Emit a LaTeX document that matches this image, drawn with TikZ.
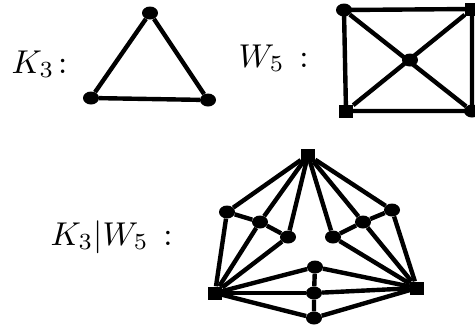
\documentclass[tikz,border=0pt]{standalone}
\usetikzlibrary{shapes.geometric}
\begin{document}
\begin{tikzpicture}[x=1pt,y=-1pt,
  dotv/.style={ellipse,fill=black,draw=none,minimum width=16pt,minimum height=13pt,inner sep=0pt},
  sqv/.style={rectangle,fill=black,draw=none,minimum width=14pt,minimum height=13pt,inner sep=0pt},
  edge/.style={line width=4.4pt},
  lbl/.style={anchor=base west,inner sep=0pt,scale=3.3}]
\useasboundingbox (0,0) rectangle (475,325);
% K3
\node[lbl] (lk) at (11,73) {$K_3\!:$};
\node[dotv] (a1) at (150,13) {};
\node[dotv] (a2) at (91,98) {};
\node[dotv] (a3) at (208,100) {};
\draw[edge] (a1) -- (a2) -- (a3) -- (a1);
% W5
\node[lbl] (lw) at (238,67) {$W_5\,:$};
\node[dotv] (w1) at (344,10) {};
\node[sqv] (w2) at (472,9) {};
\node[sqv] (w3) at (346,111) {};
\node[dotv] (w4) at (472,111) {};
\node[dotv] (w0) at (410,60) {};
\draw[edge] (w1.center) -- (w2.center) -- (w4.center) -- (w3.center) -- (w1.center);
\draw[edge] (w1) -- (w4);
\draw[edge] (w2) -- (w3);
% K3|W5
\node[lbl] (lkw) at (50,245) {$K_3|W_5\,:$};
\node[sqv] (t) at (308,155) {};
\node[sqv] (l) at (215,293) {};
\node[sqv] (r) at (417,288) {};
\node[dotv] (l1) at (227,212) {};
\node[dotv] (l2) at (260,222) {};
\node[dotv] (l3) at (288,237) {};
\node[dotv] (r3) at (333,237) {};
\node[dotv] (r2) at (363,222) {};
\node[dotv] (r1) at (392,210) {};
\node[dotv] (b1) at (315,267) {};
\node[dotv] (b2) at (314,293) {};
\node[dotv] (b3) at (314,318) {};
\foreach \v in {l1,l2,l3,r3,r2,r1} \draw[edge] (t) -- (\v);
\foreach \v in {l1,l2,l3,b1,b2,b3} \draw[edge] (l) -- (\v);
\foreach \v in {r1,r2,r3,b1,b2,b3} \draw[edge] (r) -- (\v);
\draw[edge] (l1) -- (l2) -- (l3);
\draw[edge] (r1) -- (r2) -- (r3);
\draw[edge] (b1) -- (b2) -- (b3);
\end{tikzpicture}
\end{document}
